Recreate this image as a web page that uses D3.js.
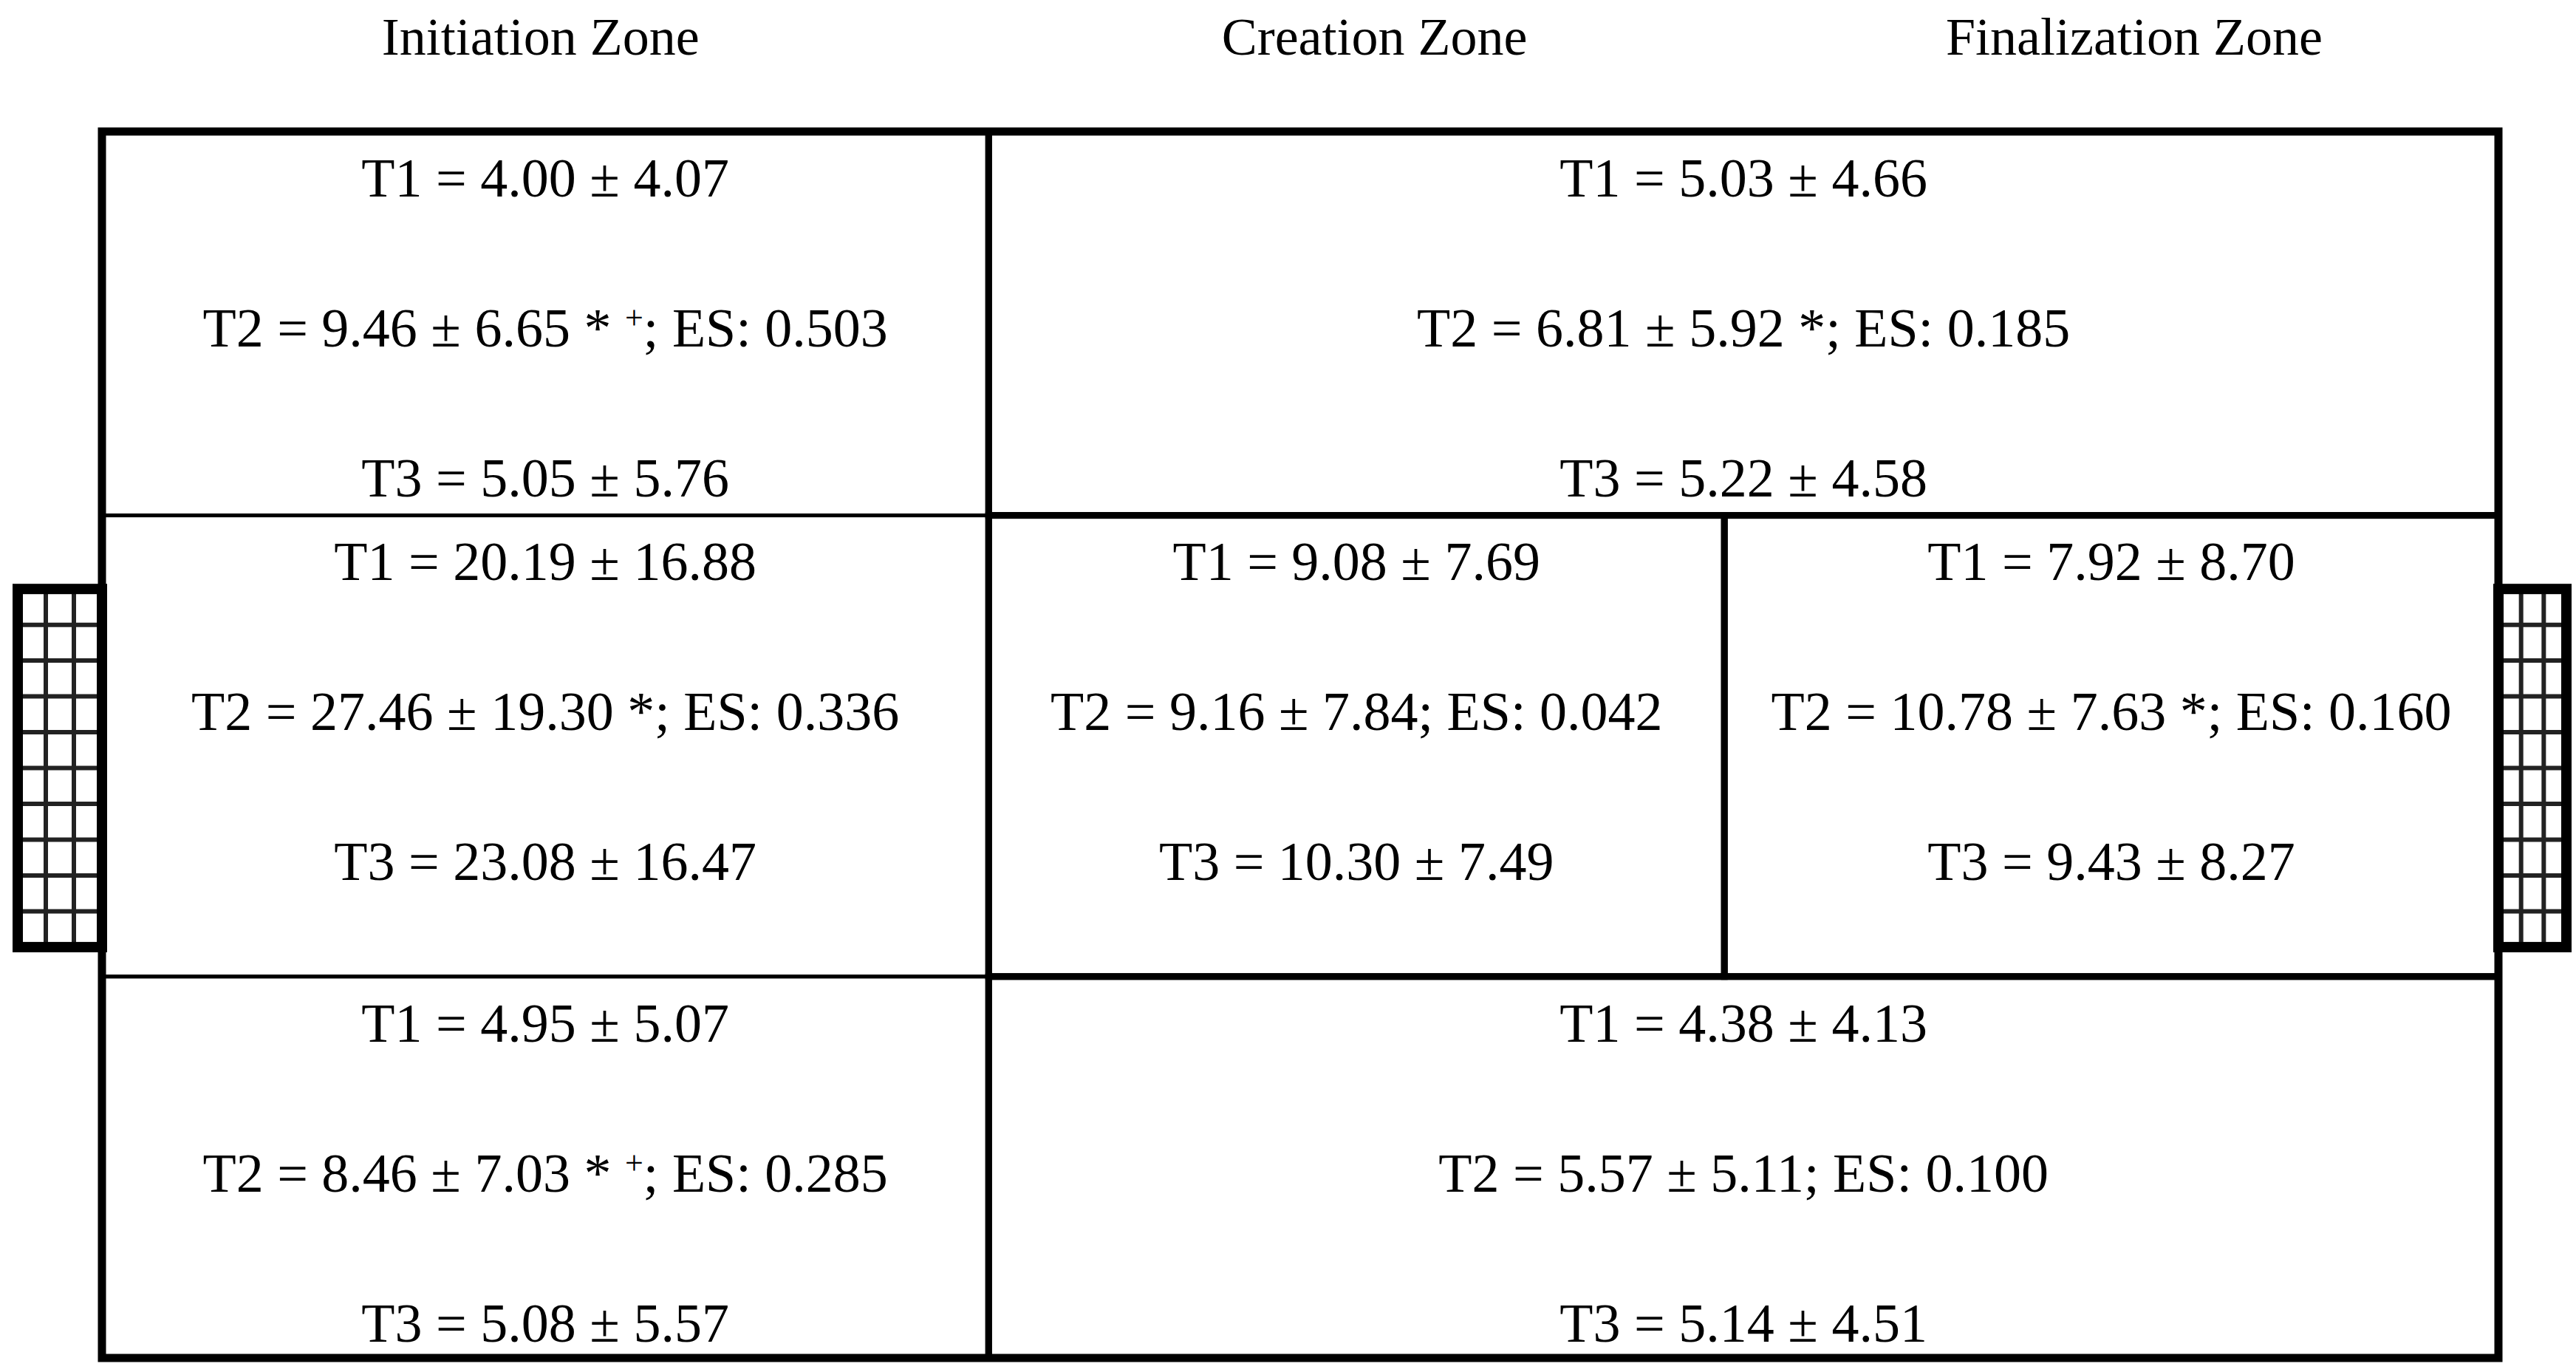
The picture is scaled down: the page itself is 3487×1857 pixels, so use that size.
<!DOCTYPE html>
<html>
<head>
<meta charset="utf-8">
<script src="https://cdn.jsdelivr.net/npm/d3@7"></script>
<style>
body { margin: 0; background: #fff; }
text { font-family: "Liberation Serif", "DejaVu Serif", serif; fill: #000; }
</style>
</head>
<body>
<svg id="chart" width="3487" height="1857"></svg>
<script>
// zone titles along the top
var zones = ["Initiation Zone", "Creation Zone", "Finalization Zone"]
var zoneX = [18.3, 53.1, 84.8]

// cell values: [x0, x1, y0, y1] in pitch percent, then the three lines
var cellBounds = [
  [0, 37, 0, 31.3],
  [37, 100, 0, 31.3],
  [0, 37, 31.3, 68.9],
  [37, 67.7, 31.3, 68.9],
  [67.7, 100, 31.3, 68.9],
  [0, 37, 68.9, 100],
  [37, 100, 68.9, 100]
]
var t1 = ["T1 = 4.00 ± 4.07", "T1 = 5.03 ± 4.66", "T1 = 20.19 ± 16.88", "T1 = 9.08 ± 7.69", "T1 = 7.92 ± 8.70", "T1 = 4.95 ± 5.07", "T1 = 4.38 ± 4.13"]
var t2 = [
  ["T2 = 9.46 ± 6.65 * ", "+", "; ES: 0.503"],
  ["T2 = 6.81 ± 5.92 *; ES: 0.185"],
  ["T2 = 27.46 ± 19.30 *; ES: 0.336"],
  ["T2 = 9.16 ± 7.84; ES: 0.042"],
  ["T2 = 10.78 ± 7.63 *; ES: 0.160"],
  ["T2 = 8.46 ± 7.03 * ", "+", "; ES: 0.285"],
  ["T2 = 5.57 ± 5.11; ES: 0.100"]
]
var t3 = ["T3 = 5.05 ± 5.76", "T3 = 5.22 ± 4.58", "T3 = 23.08 ± 16.47", "T3 = 10.30 ± 7.49", "T3 = 9.43 ± 8.27", "T3 = 5.08 ± 5.57", "T3 = 5.14 ± 4.51"]

var svg = d3.select("#chart")
var x = d3.scaleLinear().domain([0, 100]).range([138, 3382])
var y = d3.scaleLinear().domain([0, 100]).range([178, 1838])

svg.selectAll(".zone").data(zones).enter().append("text")
  .attr("x", function(d, i) { return x(zoneX[i]) })
  .attr("y", 49).attr("dy", "0.35em")
  .attr("text-anchor", "middle").style("font-size", "72px")
  .text(function(d) { return d })

// goals
function goal(x0, x1) {
  var g = svg.append("g")
  var gy0 = y(37.3), gy1 = y(66.5)
  for (var k = 1; k < 3; k++) {
    var gx = x0 + (x1 - x0) * k / 3
    g.append("line").attr("x1", gx).attr("x2", gx).attr("y1", gy0).attr("y2", gy1).attr("stroke", "#222").attr("stroke-width", 6)
  }
  for (var k = 1; k < 10; k++) {
    var yy = gy0 + (gy1 - gy0) * k / 10
    g.append("line").attr("x1", x0).attr("x2", x1).attr("y1", yy).attr("y2", yy).attr("stroke", "#222").attr("stroke-width", 6)
  }
  g.append("rect").attr("x", x0).attr("y", gy0).attr("width", x1 - x0).attr("height", gy1 - gy0)
    .attr("fill", "none").attr("stroke", "#000").attr("stroke-width", 14)
}
goal(24, x(0))
goal(x(100), 3474)

// cell borders
svg.selectAll(".cell").data(cellBounds).enter().append("rect")
  .attr("x", function(d) { return x(d[0]) })
  .attr("y", function(d) { return y(d[2]) })
  .attr("width", function(d) { return x(d[1]) - x(d[0]) })
  .attr("height", function(d) { return y(d[3]) - y(d[2]) })
  .attr("fill", "none").attr("stroke", "#000")
  .attr("stroke-width", function(d) { return d[0] == 0 ? 5 : 9 })

svg.append("line").attr("x1", x(37)).attr("x2", x(37)).attr("y1", y(0)).attr("y2", y(100)).attr("stroke", "#000").attr("stroke-width", 9)
svg.append("rect").attr("x", x(0)).attr("y", y(0)).attr("width", x(100) - x(0)).attr("height", y(100) - y(0))
  .attr("fill", "none").attr("stroke", "#000").attr("stroke-width", 11)

// cell texts
cellBounds.forEach(function(b, i) {
  var cx = (x(b[0]) + x(b[1])) / 2
  var top = y(b[2])
  var rows = [top + 62, top + 265, top + 468]
  svg.append("text").attr("x", cx).attr("y", rows[0]).attr("dy", "0.35em").attr("text-anchor", "middle").style("font-size", "74px").text(t1[i])
  var tt = svg.append("text").attr("x", cx).attr("y", rows[1]).attr("dy", "0.35em").attr("text-anchor", "middle").style("font-size", "74px")
  t2[i].forEach(function(s, j) {
    var sp = tt.append("tspan").text(s)
    if (s == "+") sp.attr("baseline-shift", "super").style("font-size", "44px")
  })
  svg.append("text").attr("x", cx).attr("y", rows[2]).attr("dy", "0.35em").attr("text-anchor", "middle").style("font-size", "74px").text(t3[i])
})
</script>
</body>
</html>
